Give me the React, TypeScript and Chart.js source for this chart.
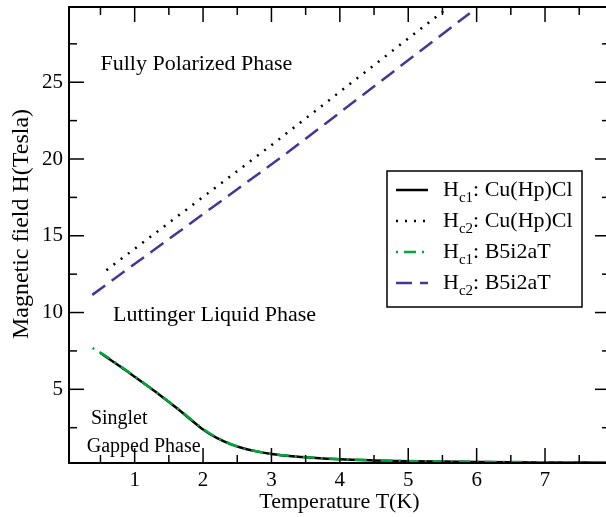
import React, { useEffect, useRef } from 'react';
import { Chart, registerables } from 'chart.js';

Chart.register(...registerables);

// ---- data ----
const T_HC1_CU = [0.5, 0.8, 1.0, 1.2, 1.4, 1.6, 1.8, 2.0, 2.2, 2.4, 2.6, 2.8, 3.0, 3.3, 3.6, 4.0, 4.5, 5.0, 5.5, 6.0, 7.0, 8.0];
const H_HC1_CU = [7.36, 6.45, 5.82, 5.18, 4.52, 3.83, 3.1, 2.38, 1.83, 1.43, 1.14, 0.94, 0.79, 0.64, 0.54, 0.44, 0.37, 0.32, 0.29, 0.27, 0.24, 0.22];

const T_HC2_CU = [0.587, 2.97, 5.62];
const H_HC2_CU = [12.76, 20.8, 30.0];

const T_HC1_B5 = [0.385, 0.6, 0.8, 1.0, 1.2, 1.4, 1.6, 1.8, 2.0, 2.2, 2.4, 2.6, 2.8, 3.0, 3.3, 3.6, 4.0, 4.5, 5.0, 5.5, 6.0, 7.0, 8.0];
const H_HC1_B5 = [7.69, 7.1, 6.48, 5.84, 5.19, 4.53, 3.85, 3.13, 2.42, 1.86, 1.45, 1.15, 0.95, 0.8, 0.65, 0.55, 0.45, 0.38, 0.33, 0.3, 0.28, 0.25, 0.23];

const T_HC2_B5 = [0.38, 3.23, 5.9];
const H_HC2_B5 = [11.15, 20.4, 29.5];

const X_TICKS = [1, 2, 3, 4, 5, 6, 7];
const X_MINOR = [0.5, 1.5, 2.5, 3.5, 4.5, 5.5, 6.5, 7.5];
const Y_TICKS = [5, 10, 15, 20, 25];
const Y_MINOR = [2.5, 7.5, 12.5, 17.5, 22.5, 27.5];

const LEGEND_SUBS = ['c1', 'c2', 'c1', 'c2'];
const LEGEND_NAMES = ['Cu(Hp)Cl', 'Cu(Hp)Cl', 'B5i2aT', 'B5i2aT'];

const ANNOT_TEXT = ['Fully Polarized Phase', 'Luttinger Liquid Phase', 'Singlet', 'Gapped Phase'];
const ANNOT_T = [0.5, 0.685, 0.36, 0.3];
const ANNOT_H = [26.2, 9.84, 3.05, 1.28];

const X_TITLE = 'Temperature T(K)';
const Y_TITLE = 'Magnetic field H(Tesla)';

const SERIF = '"Liberation Serif", "Times New Roman", serif';
const GREEN = 'rgb(0,168,55)';
const PURPLE = 'rgb(72,52,150)';

const pts = (xs: number[], ys: number[]) => xs.map((x, i) => ({ x, y: ys[i] }));

const framePlugin = {
  id: 'xmframe',
  afterDatasetsDraw(chart: any) {
    const { ctx, chartArea: a, scales } = chart;
    const x = scales.x;
    const y = scales.y;
    ctx.save();
    const line = (x1: number, y1: number, x2: number, y2: number) => {
      ctx.beginPath();
      ctx.moveTo(x1, y1);
      ctx.lineTo(x2, y2);
      ctx.stroke();
    };
    ctx.strokeStyle = '#000';
    ctx.lineWidth = 1.5;
    ctx.setLineDash([]);
    const MAJ = 15;
    const MIN = 8;
    X_TICKS.forEach((v) => {
      const p = x.getPixelForValue(v);
      line(p, a.bottom, p, a.bottom - MAJ);
      line(p, a.top, p, a.top + MAJ);
    });
    X_MINOR.forEach((v) => {
      const p = x.getPixelForValue(v);
      line(p, a.bottom, p, a.bottom - MIN);
      line(p, a.top, p, a.top + MIN);
    });
    Y_TICKS.forEach((v) => {
      const p = y.getPixelForValue(v);
      line(a.left, p, a.left + MAJ, p);
      line(a.right, p, a.right - MAJ, p);
    });
    Y_MINOR.forEach((v) => {
      const p = y.getPixelForValue(v);
      line(a.left, p, a.left + MIN, p);
      line(a.right, p, a.right - MIN, p);
    });
    ctx.lineWidth = 2;
    ctx.strokeRect(a.left, a.top, a.right - a.left, a.bottom - a.top);

    // annotations
    ctx.fillStyle = '#000';
    ctx.textBaseline = 'middle';
    ctx.textAlign = 'left';
    ANNOT_TEXT.forEach((t, i) => {
      ctx.font = (i >= 2 ? '20px ' : '22px ') + SERIF;
      ctx.fillText(t, x.getPixelForValue(ANNOT_T[i]), y.getPixelForValue(ANNOT_H[i]));
    });

    // legend
    const L = 387, R = 582, T = 171, B = 307;
    ctx.fillStyle = '#fff';
    ctx.fillRect(L, T, R - L, B - T);
    ctx.strokeStyle = '#000';
    ctx.lineWidth = 1.5;
    ctx.strokeRect(L, T, R - L, B - T);
    chart.data.datasets.forEach((ds: any, i: number) => {
      const ry = T + 19 + i * 31;
      ctx.save();
      ctx.strokeStyle = ds.borderColor;
      ctx.lineWidth = ds.borderWidth;
      ctx.setLineDash(ds.borderDash || []);
      line(396, ry, 428, ry);
      ctx.restore();
      ctx.fillStyle = '#000';
      ctx.textBaseline = 'middle';
      ctx.textAlign = 'left';
      ctx.font = '22px ' + SERIF;
      let tx = 443;
      ctx.fillText('H', tx, ry);
      tx += ctx.measureText('H').width;
      ctx.font = '15px ' + SERIF;
      ctx.fillText(LEGEND_SUBS[i], tx, ry + 8);
      tx += ctx.measureText(LEGEND_SUBS[i]).width;
      ctx.font = '22px ' + SERIF;
      ctx.fillText(': ' + LEGEND_NAMES[i], tx, ry);
    });

    // axis titles
    ctx.fillStyle = '#000';
    ctx.textAlign = 'center';
    ctx.textBaseline = 'middle';
    ctx.font = '22px ' + SERIF;
    ctx.fillText(X_TITLE, (a.left + a.right) / 2, 502);
    ctx.save();
    ctx.translate(22, 224);
    ctx.rotate(-Math.PI / 2);
    ctx.font = '24px ' + SERIF;
    ctx.fillText(Y_TITLE, 0, 0);
    ctx.restore();
    ctx.restore();
  },
};

const noPad = (s: any) => {
  s.paddingTop = 0;
  s.paddingBottom = 0;
  s.paddingLeft = 0;
  s.paddingRight = 0;
};

export default function App() {
  const ref = useRef<HTMLCanvasElement | null>(null);
  useEffect(() => {
    if (!ref.current) return;
    const chart = new Chart(ref.current, {
      type: 'scatter',
      data: {
        datasets: [
          {
            label: 'Hc1: Cu(Hp)Cl',
            data: pts(T_HC1_CU, H_HC1_CU),
            showLine: true,
            borderColor: '#000',
            borderWidth: 2.5,
            pointRadius: 0,
            cubicInterpolationMode: 'monotone',
            order: 2,
          },
          {
            label: 'Hc2: Cu(Hp)Cl',
            data: pts(T_HC2_CU, H_HC2_CU),
            showLine: true,
            borderColor: '#000',
            borderWidth: 2.5,
            borderDash: [2, 7],
            pointRadius: 0,
            order: 3,
          },
          {
            label: 'Hc1: B5i2aT',
            data: pts(T_HC1_B5, H_HC1_B5),
            showLine: true,
            borderColor: GREEN,
            borderWidth: 2.5,
            borderDash: [2, 6, 12, 6],
            pointRadius: 0,
            cubicInterpolationMode: 'monotone',
            order: 1,
          },
          {
            label: 'Hc2: B5i2aT',
            data: pts(T_HC2_B5, H_HC2_B5),
            showLine: true,
            borderColor: PURPLE,
            borderWidth: 2.5,
            borderDash: [16, 8],
            pointRadius: 0,
            order: 4,
          },
        ] as any,
      },
      options: {
        animation: false,
        responsive: false,
        maintainAspectRatio: false,
        layout: { padding: { top: 7, right: 10, left: 0, bottom: 0 } },
        plugins: { legend: { display: false }, tooltip: { enabled: false } },
        scales: {
          x: {
            type: 'linear',
            position: 'bottom',
            min: 0.04,
            max: 7.95,
            grid: { display: false, drawTicks: false },
            border: { display: false },
            ticks: { color: '#000', font: { family: SERIF, size: 21 }, padding: 5, autoSkip: false, maxRotation: 0 },
            afterBuildTicks: (s: any) => {
              s.ticks = X_TICKS.map((v) => ({ value: v }));
            },
            afterFit: (s: any) => {
              s.height = 54;
              noPad(s);
            },
          },
          y: {
            type: 'linear',
            position: 'left',
            min: 0.2,
            max: 29.9,
            grid: { display: false, drawTicks: false },
            border: { display: false },
            ticks: { color: '#000', font: { family: SERIF, size: 21 }, padding: 6, autoSkip: false },
            afterBuildTicks: (s: any) => {
              s.ticks = Y_TICKS.map((v) => ({ value: v }));
            },
            afterFit: (s: any) => {
              s.width = 69;
              noPad(s);
            },
          },
        },
      } as any,
      plugins: [framePlugin],
    });
    return () => chart.destroy();
  }, []);
  return (
    <div style={{ position: 'fixed', left: 0, top: 0, width: 606, height: 517, overflow: 'hidden', background: '#fff' }}>
      <canvas ref={ref} width={620} height={517} style={{ display: 'block', width: 620, height: 517 }} />
    </div>
  );
}
